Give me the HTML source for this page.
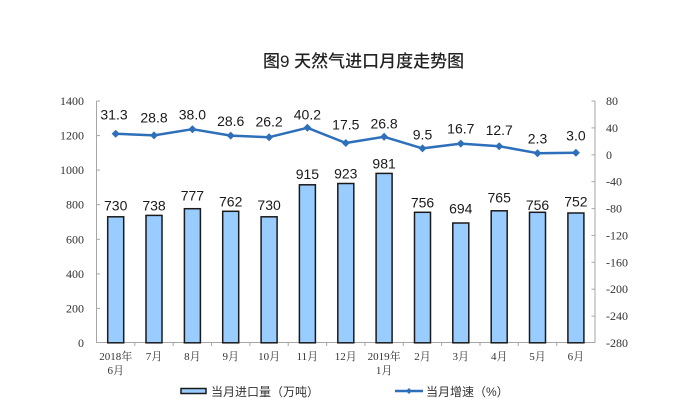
<!DOCTYPE html>
<html><head><meta charset="utf-8"><style>
html,body{margin:0;padding:0;background:#fff;}
svg{display:block;}
.t{font-family:"Liberation Sans","Noto Sans CJK SC",sans-serif;}
.s{font-family:"Liberation Serif","Noto Serif CJK SC",serif;}
</style></head><body>
<svg width="675" height="420" viewBox="0 0 675 420" xmlns="http://www.w3.org/2000/svg">
<rect width="675" height="420" fill="#fff"/>
<text x="263" y="67" class="t" font-size="17" font-weight="500" fill="#222">图9 天然气进口月度走势图</text>

<!-- axes -->
<g stroke="#a6a6a6" stroke-width="1" fill="none">
<line x1="96.5" y1="101" x2="96.5" y2="343"/>
<line x1="595" y1="101" x2="595" y2="343"/>
<line x1="96.5" y1="342.5" x2="595" y2="342.5"/>
<line x1="96.5" y1="101" x2="100" y2="101"/>
<line x1="96.5" y1="135.6" x2="100" y2="135.6"/>
<line x1="96.5" y1="170.1" x2="100" y2="170.1"/>
<line x1="96.5" y1="204.7" x2="100" y2="204.7"/>
<line x1="96.5" y1="239.3" x2="100" y2="239.3"/>
<line x1="96.5" y1="273.9" x2="100" y2="273.9"/>
<line x1="96.5" y1="308.4" x2="100" y2="308.4"/>
<line x1="591.5" y1="101" x2="595" y2="101"/>
<line x1="591.5" y1="127.9" x2="595" y2="127.9"/>
<line x1="591.5" y1="154.8" x2="595" y2="154.8"/>
<line x1="591.5" y1="181.7" x2="595" y2="181.7"/>
<line x1="591.5" y1="208.6" x2="595" y2="208.6"/>
<line x1="591.5" y1="235.4" x2="595" y2="235.4"/>
<line x1="591.5" y1="262.3" x2="595" y2="262.3"/>
<line x1="591.5" y1="289.2" x2="595" y2="289.2"/>
<line x1="591.5" y1="316.1" x2="595" y2="316.1"/>
<line x1="134.8" y1="343" x2="134.8" y2="346"/>
<line x1="173.2" y1="343" x2="173.2" y2="346"/>
<line x1="211.5" y1="343" x2="211.5" y2="346"/>
<line x1="249.9" y1="343" x2="249.9" y2="346"/>
<line x1="288.2" y1="343" x2="288.2" y2="346"/>
<line x1="326.6" y1="343" x2="326.6" y2="346"/>
<line x1="364.9" y1="343" x2="364.9" y2="346"/>
<line x1="403.3" y1="343" x2="403.3" y2="346"/>
<line x1="441.6" y1="343" x2="441.6" y2="346"/>
<line x1="480.0" y1="343" x2="480.0" y2="346"/>
<line x1="518.3" y1="343" x2="518.3" y2="346"/>
<line x1="556.7" y1="343" x2="556.7" y2="346"/>
</g>

<g class="s" font-size="12" fill="#333" text-anchor="end">
<text x="84" y="105">1400</text>
<text x="84" y="139.6">1200</text>
<text x="84" y="174.1">1000</text>
<text x="84" y="208.7">800</text>
<text x="84" y="243.3">600</text>
<text x="84" y="277.9">400</text>
<text x="84" y="312.4">200</text>
<text x="84" y="347">0</text>
</g>
<g class="s" font-size="12" fill="#333">
<text x="606" y="105">80</text>
<text x="606" y="131.9">40</text>
<text x="606" y="158.8">0</text>
<text x="606" y="185.7">-40</text>
<text x="606" y="212.6">-80</text>
<text x="606" y="239.4">-120</text>
<text x="606" y="266.3">-160</text>
<text x="606" y="293.2">-200</text>
<text x="606" y="320.1">-240</text>
<text x="606" y="347">-280</text>
</g>

<g fill="#99ccff" stroke="#1a1a1a" stroke-width="1.5">
<rect x="107.7" y="216.8" width="16" height="126"/>
<rect x="146.0" y="215.4" width="16" height="127.4"/>
<rect x="184.4" y="208.7" width="16" height="134.1"/>
<rect x="222.7" y="211.3" width="16" height="131.5"/>
<rect x="261.1" y="216.8" width="16" height="126"/>
<rect x="299.4" y="184.8" width="16" height="158"/>
<rect x="337.8" y="183.5" width="16" height="159.3"/>
<rect x="376.1" y="173.4" width="16" height="169.4"/>
<rect x="414.5" y="212.3" width="16" height="130.5"/>
<rect x="452.8" y="223.0" width="16" height="119.8"/>
<rect x="491.2" y="210.8" width="16" height="132"/>
<rect x="529.5" y="212.3" width="16" height="130.5"/>
<rect x="567.9" y="213.0" width="16" height="129.8"/>
</g>

<g class="t" font-size="14" fill="#1a1a1a" text-anchor="middle">
<text x="115.7" y="210.7">730</text>
<text x="154.0" y="210.7">738</text>
<text x="192.4" y="200.7">777</text>
<text x="230.7" y="206.7">762</text>
<text x="269.1" y="210">730</text>
<text x="307.4" y="179">915</text>
<text x="345.8" y="178.3">923</text>
<text x="384.1" y="168.3">981</text>
<text x="422.5" y="207.3">756</text>
<text x="460.8" y="213.3">694</text>
<text x="499.2" y="202.3">765</text>
<text x="537.5" y="210">756</text>
<text x="575.9" y="206.7">752</text>
</g>

<polyline fill="none" stroke="#2e6fba" stroke-width="2.5" stroke-linejoin="round"
points="115.7,133.7 154.0,135.4 192.4,129.2 230.7,135.6 269.1,137.2 307.4,127.8 345.8,143.0 384.1,136.8 422.5,148.4 460.8,143.6 499.2,146.2 537.5,153.2 575.9,152.8"/>
<g fill="#2e6fba">
<path d="M115.7,129.7 L119.7,133.7 L115.7,137.7 L111.7,133.7Z"/>
<path d="M154.0,131.4 L158.0,135.4 L154.0,139.4 L150.0,135.4Z"/>
<path d="M192.4,125.2 L196.4,129.2 L192.4,133.2 L188.4,129.2Z"/>
<path d="M230.7,131.6 L234.7,135.6 L230.7,139.6 L226.7,135.6Z"/>
<path d="M269.1,133.2 L273.1,137.2 L269.1,141.2 L265.1,137.2Z"/>
<path d="M307.4,123.8 L311.4,127.8 L307.4,131.8 L303.4,127.8Z"/>
<path d="M345.8,139.0 L349.8,143.0 L345.8,147.0 L341.8,143.0Z"/>
<path d="M384.1,132.8 L388.1,136.8 L384.1,140.8 L380.1,136.8Z"/>
<path d="M422.5,144.4 L426.5,148.4 L422.5,152.4 L418.5,148.4Z"/>
<path d="M460.8,139.6 L464.8,143.6 L460.8,147.6 L456.8,143.6Z"/>
<path d="M499.2,142.2 L503.2,146.2 L499.2,150.2 L495.2,146.2Z"/>
<path d="M537.5,149.2 L541.5,153.2 L537.5,157.2 L533.5,153.2Z"/>
<path d="M575.9,148.8 L579.9,152.8 L575.9,156.8 L571.9,152.8Z"/>
</g>

<g class="t" font-size="14" fill="#1a1a1a" text-anchor="middle">
<text x="114" y="119.5">31.3</text>
<text x="154" y="122.5">28.8</text>
<text x="192.4" y="119.5">38.0</text>
<text x="230.7" y="126">28.6</text>
<text x="269.1" y="126.5">26.2</text>
<text x="307.4" y="119.5">40.2</text>
<text x="345.8" y="129.3">17.5</text>
<text x="384.1" y="128.3">26.8</text>
<text x="422.5" y="139.3">9.5</text>
<text x="460.8" y="133.3">16.7</text>
<text x="499.2" y="135">12.7</text>
<text x="537.5" y="143.3">2.3</text>
<text x="575.9" y="140.7">3.0</text>
</g>

<g class="s" font-size="11" fill="#333" text-anchor="middle">
<text x="115.7" y="360">2018年</text>
<text x="115.7" y="374">6月</text>
<text x="154.0" y="360">7月</text>
<text x="192.4" y="360">8月</text>
<text x="230.7" y="360">9月</text>
<text x="269.1" y="360">10月</text>
<text x="307.4" y="360">11月</text>
<text x="345.8" y="360">12月</text>
<text x="384.1" y="360">2019年</text>
<text x="384.1" y="374">1月</text>
<text x="422.5" y="360">2月</text>
<text x="460.8" y="360">3月</text>
<text x="499.2" y="360">4月</text>
<text x="537.5" y="360">5月</text>
<text x="575.9" y="360">6月</text>
</g>

<rect x="181" y="388.5" width="25" height="5" fill="#99ccff" stroke="#1a1a1a" stroke-width="1.5"/>
<text x="211" y="396" class="t" font-size="12" fill="#333">当月进口量（万吨）</text>
<line x1="395" y1="391" x2="423" y2="391" stroke="#2e6fba" stroke-width="2.5"/>
<path d="M409,388 L412,391 L409,394 L406,391Z" fill="#2e6fba"/>
<text x="426" y="396" class="t" font-size="12" fill="#333">当月增速（%）</text>
</svg>
</body></html>
